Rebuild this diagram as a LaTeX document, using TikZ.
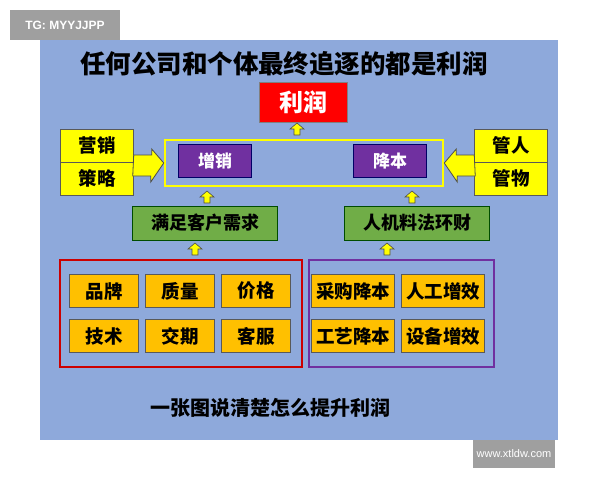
\documentclass[tikz,border=0pt]{standalone}
\usepackage{fontspec}
\setmainfont{Noto Sans CJK SC}
\setsansfont{Liberation Sans}
\definecolor{panel}{HTML}{8EA9DB}
\definecolor{purp}{HTML}{7030A0}
\definecolor{grn}{HTML}{70AD47}
\definecolor{org}{HTML}{FFC000}
\definecolor{ylw}{HTML}{FFFF00}
\tikzset{
 txt/.style={font=\bfseries},
 ybox/.style={draw=gray!70!black,fill=ylw,minimum width=73pt,minimum height=33pt,font=\bfseries\fontsize{18.5}{18.5}\selectfont,inner sep=0pt},
 pbox/.style={draw=blue!40!black,fill=purp,text=white,minimum width=73pt,minimum height=33pt,font=\bfseries\fontsize{17}{17}\selectfont,inner sep=0pt},
 gbox/.style={draw=green!30!black,fill=grn,minimum width=145pt,minimum height=34pt,font=\bfseries\fontsize{18}{18}\selectfont,inner sep=0pt},
 obox/.style={draw=gray!70!black,fill=org,minimum height=33pt,font=\bfseries\fontsize{18.5}{18.5}\selectfont,inner sep=0pt},
 sarrow/.style={draw=gray!60!black,fill=ylw,line width=0.6pt},
}
\newcommand\uparrowat[2]{\draw[sarrow] (#1-3,#2+12) -- (#1-3,#2+6) -- (#1-7,#2+6) -- (#1,#2) -- (#1+7,#2+6) -- (#1+3,#2+6) -- (#1+3,#2+12) -- cycle;}
\begin{document}
\begin{tikzpicture}[x=1pt,y=-1pt]
\useasboundingbox (0,0) rectangle (600,480);
\fill[white] (0,0) rectangle (600,480);
\fill[panel] (40,40) rectangle (558,440);
\node[fill=gray!75,text=white,minimum width=110pt,minimum height=30pt,font=\sffamily\bfseries\fontsize{12}{12}\selectfont] (tg) at (65,25) {TG: MYYJJPP};
\node[fill=gray!75,text=white,minimum width=78pt,minimum height=28pt,font=\sffamily\fontsize{11}{11}\selectfont] (www) at (514,454) {www.xtldw.com};
\node[txt,font=\bfseries\fontsize{25.5}{25.5}\selectfont] (title) at (284,64) {任何公司和个体最终追逐的都是利润};
\node[draw=gray,fill=red,text=white,minimum width=88pt,minimum height=40pt,font=\bfseries\fontsize{24}{24}\selectfont,inner sep=0pt] (lr) at (303,102) {利润};
\node[draw=ylw,line width=2.5pt,minimum width=278pt,minimum height=46pt] (frame) at (304,163) {};
\node[pbox] (zx) at (215,161) {增销};
\node[pbox] (jb) at (390,161) {降本};
\node[ybox,anchor=south] (yx) at (97,162) {营销};
\node[ybox,anchor=north] (cl) at (97,162) {策略};
\node[ybox,anchor=south] (gr) at (511,162) {管人};
\node[ybox,anchor=north] (gw) at (511,162) {管物};
\draw[sarrow,line width=0.8pt] (cl.north east) ++(0,-7) coordinate(a1) -- ++(18,0) -- ++(0,-6) -- (frame.west) -- ++(-13,19) |- ++(-18,-6) -- cycle;
\draw[sarrow,line width=0.8pt] (gw.north west) ++(0,-7) -- ++(-18,0) -- ++(0,-6) -- (frame.east) -- ++(13,19) |- ++(18,-6) -- cycle;
\node[gbox] (mz) at (205,223) {满足客户需求};
\node[gbox] (rj) at (417,223) {人机料法环财};
\uparrowat{297}{123}
\uparrowat{207}{191}
\uparrowat{412}{191}
\uparrowat{195}{243}
\uparrowat{387}{243}
\node[draw=red!80!black,line width=2pt,minimum width=242pt,minimum height=107pt] (rb) at (181,313) {};
\node[draw=purp,line width=2pt,minimum width=185pt,minimum height=107pt] (pb) at (401,313) {};
\begin{scope}[every node/.style={obox,minimum width=69pt}]
\node (n1) at (104,291) {品牌};
\node (n2) at (180,291) {质量};
\node (n3) at (256,291) {价格};
\node (n4) at (104,336) {技术};
\node (n5) at (180,336) {交期};
\node (n6) at (256,336) {客服};
\end{scope}
\begin{scope}[every node/.style={obox,minimum width=83pt}]
\node (m1) at (353,291) {采购降本};
\node (m2) at (443,291) {人工增效};
\node (m3) at (353,336) {工艺降本};
\node (m4) at (443,336) {设备增效};
\end{scope}
\node[font=\bfseries\fontsize{20}{20}\selectfont] (bt) at (270,408) {一张图说清楚怎么提升利润};
\end{tikzpicture}
\end{document}
